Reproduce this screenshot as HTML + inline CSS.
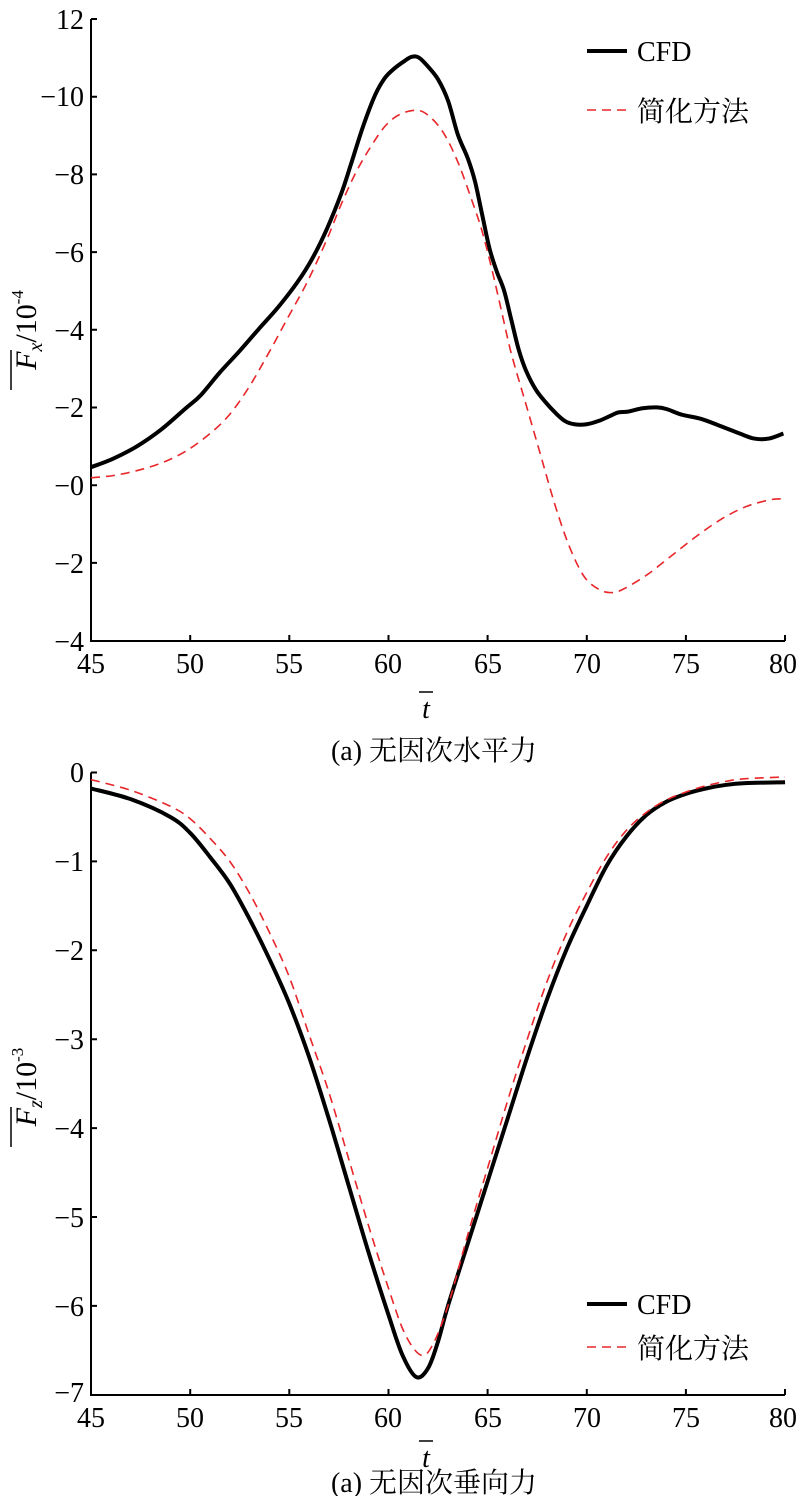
<!DOCTYPE html>
<html><head><meta charset="utf-8"><style>
html,body{margin:0;padding:0;background:#fff}
svg{display:block}
text{font-family:"Liberation Serif","Noto Serif CJK SC",serif;fill:#000}
</style></head><body>
<svg id="s" width="800" height="1496" viewBox="0 0 800 1496" xmlns="http://www.w3.org/2000/svg">
<!-- TOP PLOT -->
<g stroke="#000" stroke-width="2" fill="none">
<path d="M91,19 V641 H785"/>
<path d="M91,19h6M91,96.7h6M91,174.4h6M91,252.1h6M91,329.8h6M91,407.5h6M91,485.2h6M91,562.9h6M91,641h6"/>
<path d="M190.2,641v-6M289.3,641v-6M388.5,641v-6M487.6,641v-6M586.8,641v-6M685.9,641v-6M785,641v-6"/>
</g>
<g font-size="28" text-anchor="end">
<text x="84" y="29">12</text><text x="84" y="106">−10</text><text x="84" y="184">−8</text>
<text x="84" y="262">−6</text><text x="84" y="340">−4</text><text x="84" y="417">−2</text>
<text x="84" y="495">−0</text><text x="84" y="573">−2</text><text x="84" y="651">−4</text>
</g>
<g font-size="28" text-anchor="middle">
<text x="91" y="673">45</text><text x="190" y="673">50</text><text x="289" y="673">55</text><text x="388" y="673">60</text>
<text x="488" y="673">65</text><text x="587" y="673">70</text><text x="686" y="673">75</text><text x="783" y="673">80</text>
</g>
<text x="426" y="718" font-size="28" font-style="italic" text-anchor="middle">t</text>
<line x1="419" y1="692" x2="433" y2="692" stroke="#000" stroke-width="1.5"/>
<text x="434" y="760" font-size="28" text-anchor="middle">(a) 无因次水平力</text>
<g transform="translate(36,330) rotate(-90)">
<text x="0" y="0" font-size="30" text-anchor="middle"><tspan font-style="italic">F</tspan><tspan font-size="20" font-style="italic" dy="6">x</tspan><tspan dy="-6">/10</tspan><tspan font-size="17" dy="-13">-4</tspan></text>
<line x1="-60" y1="-25" x2="-20" y2="-25" stroke="#000" stroke-width="1.5"/>
</g>
<g transform="matrix(0.4859,0,0,0.4209,40,0)" fill="none">
<polyline class="sm" vector-effect="non-scaling-stroke" stroke="#000" stroke-width="4" stroke-linejoin="round" points="105,1110 150,1090 200,1060 250,1020 300,970 330,940 370,885 410,835 450,782 490,730 530,670 560,615 590,545 620,460 640,390 665,300 690,225 710,185 730,162 750,145 765,135 780,137 800,160 820,190 840,240 860,320 880,375 895,430 910,510 925,590 940,645 955,690 970,760 985,830 1000,880 1020,925 1040,955 1060,980 1080,1000 1100,1008 1125,1008 1150,1000 1170,990 1190,980 1210,978 1240,970 1270,968 1290,972 1320,985 1360,995 1400,1012 1440,1030 1470,1042 1500,1042 1530,1030"/>
<polyline class="sm" vector-effect="non-scaling-stroke" stroke="#e8262a" stroke-width="1.6" stroke-dasharray="9,6" points="105,1135 150,1130 200,1118 250,1100 300,1072 350,1030 390,985 430,920 470,840 510,755 550,670 590,570 620,485 650,410 680,350 710,300 740,272 775,262 800,275 830,315 860,385 890,480 910,550 930,640 950,740 970,840 1000,960 1030,1080 1060,1200 1090,1300 1120,1370 1150,1400 1175,1408 1200,1400 1250,1365 1300,1320 1350,1275 1400,1235 1450,1205 1500,1188 1530,1185"/>
</g>
<line x1="587" y1="51" x2="627" y2="51" stroke="#000" stroke-width="4"/>
<text x="637" y="61" font-size="28">CFD</text>
<line x1="587" y1="110" x2="627" y2="110" stroke="#e8262a" stroke-width="1.6" stroke-dasharray="9,6"/>
<text x="637" y="121" font-size="28">简化方法</text>

<!-- BOTTOM PLOT -->
<g stroke="#000" stroke-width="2" fill="none">
<path d="M91,772.5 V1395 H785"/>
<path d="M91,772.5h6M91,861.4h6M91,950.3h6M91,1039.2h6M91,1128.1h6M91,1217h6M91,1305.9h6"/>
<path d="M190.2,1395v-6M289.3,1395v-6M388.5,1395v-6M487.6,1395v-6M586.8,1395v-6M685.9,1395v-6M785,1395v-6"/>
</g>
<g font-size="28" text-anchor="end">
<text x="84" y="782">0</text><text x="84" y="871">−1</text><text x="84" y="960">−2</text>
<text x="84" y="1049">−3</text><text x="84" y="1138">−4</text><text x="84" y="1227">−5</text>
<text x="84" y="1316">−6</text><text x="84" y="1402">−7</text>
</g>
<g font-size="28" text-anchor="middle">
<text x="91" y="1427">45</text><text x="190" y="1427">50</text><text x="289" y="1427">55</text><text x="388" y="1427">60</text>
<text x="488" y="1427">65</text><text x="587" y="1427">70</text><text x="686" y="1427">75</text><text x="783" y="1427">80</text>
</g>
<text x="426" y="1467" font-size="28" font-style="italic" text-anchor="middle">t</text>
<line x1="419" y1="1441" x2="433" y2="1441" stroke="#000" stroke-width="1.5"/>
<text x="434" y="1492" font-size="28" text-anchor="middle">(a) 无因次垂向力</text>
<g transform="translate(36,1087) rotate(-90)">
<text x="0" y="0" font-size="30" text-anchor="middle"><tspan font-style="italic">F</tspan><tspan font-size="20" font-style="italic" dy="6">z</tspan><tspan dy="-6">/10</tspan><tspan font-size="17" dy="-13">-3</tspan></text>
<line x1="-60" y1="-25" x2="-20" y2="-25" stroke="#000" stroke-width="1.5"/>
</g>
<g transform="matrix(19.83,0,0,-88.9,-801.35,772.5)" fill="none">
<polyline class="sm" vector-effect="non-scaling-stroke" stroke="#000" stroke-width="4" stroke-linejoin="round" points="45,-0.18 47,-0.3 49,-0.5 50,-0.68 51,-0.95 52,-1.25 53,-1.65 54,-2.1 55,-2.6 56,-3.2 57,-3.9 58,-4.65 59,-5.4 60,-6.1 60.7,-6.55 61.4,-6.8 62,-6.7 62.5,-6.4 63,-6.0 64,-5.3 65,-4.6 66,-3.9 67,-3.2 68,-2.55 69,-1.98 70,-1.5 71,-1.05 72,-0.72 73,-0.48 74,-0.33 75,-0.24 76,-0.18 77,-0.14 78,-0.12 80,-0.11"/>
<polyline class="sm" vector-effect="non-scaling-stroke" stroke="#e8262a" stroke-width="1.6" stroke-dasharray="9,6" points="45,-0.08 47,-0.2 49,-0.38 50,-0.52 51,-0.74 52,-1.0 53,-1.36 54,-1.8 55,-2.3 56,-2.95 57,-3.6 58,-4.35 59,-5.1 60,-5.8 60.8,-6.3 61.6,-6.55 62.2,-6.45 63,-6.0 64,-5.2 65,-4.45 66,-3.7 67,-3.0 68,-2.35 69,-1.8 70,-1.35 71,-0.95 72,-0.65 73,-0.45 74,-0.31 75,-0.22 76,-0.15 77,-0.1 78,-0.07 80,-0.05"/>
</g>
<line x1="587" y1="1304" x2="627" y2="1304" stroke="#000" stroke-width="4"/>
<text x="637" y="1314" font-size="28">CFD</text>
<line x1="587" y1="1347" x2="627" y2="1347" stroke="#e8262a" stroke-width="1.6" stroke-dasharray="9,6"/>
<text x="637" y="1358" font-size="28">简化方法</text>
</svg>
<script>
document.querySelectorAll('polyline.sm').forEach(function(pl){
  var p=pl.getAttribute('points').trim().split(/\s+/).map(function(s){return s.split(',').map(Number);});
  var d='M'+p[0][0]+','+p[0][1];
  for(var i=0;i<p.length-1;i++){
    var p0=p[i>0?i-1:i],p1=p[i],p2=p[i+1],p3=p[i+2<p.length?i+2:i+1];
    var c1x=p1[0]+(p2[0]-p0[0])/6,c1y=p1[1]+(p2[1]-p0[1])/6;
    var c2x=p2[0]-(p3[0]-p1[0])/6,c2y=p2[1]-(p3[1]-p1[1])/6;
    d+=' C'+c1x+','+c1y+' '+c2x+','+c2y+' '+p2[0]+','+p2[1];
  }
  var path=document.createElementNS('http://www.w3.org/2000/svg','path');
  ['vector-effect','stroke','stroke-width','stroke-dasharray','stroke-linejoin'].forEach(function(a){
    if(pl.hasAttribute(a))path.setAttribute(a,pl.getAttribute(a));
  });
  path.setAttribute('fill','none');
  path.setAttribute('d',d);
  pl.parentNode.replaceChild(path,pl);
});
</script>
</body></html>
